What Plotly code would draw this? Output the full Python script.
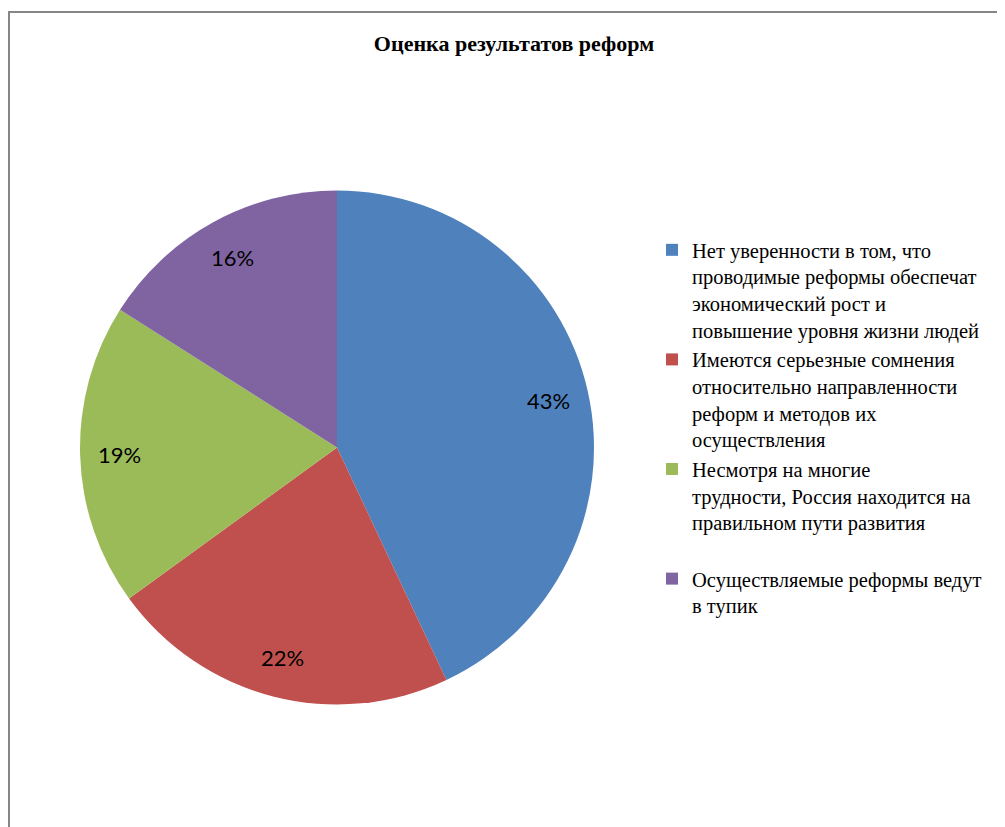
import math
import plotly.graph_objects as go

# --- data ---
labels = [
    "Нет уверенности в том, что<br>проводимые реформы обеспечат<br>экономический рост и<br>повышение уровня жизни людей",
    "Имеются серьезные сомнения<br>относительно направленности<br>реформ и методов их<br>осуществления",
    "Несмотря на многие<br>трудности, Россия находится на<br>правильном пути развития<br> ",
    "Осуществляемые реформы ведут<br>в тупик",
]
values = [43, 22, 19, 16]
colors = ["#4F81BD", "#C0504D", "#9BBB59", "#8064A2"]

# page body has an 8px margin, so the figure starts at (8, 8)
OFF = 8
W, H = 1005 - OFF, 827 - OFF


def px(x):
    return (x - OFF) / W


def py(y):
    return 1 - (y - OFF) / H


# pie geometry in page pixels
left, right, top, bottom = 80, 594, 190, 705
cx, cy = (left + right) / 2, (top + bottom) / 2
R = (right - left) / 2

fig = go.Figure()
fig.add_trace(go.Pie(
    labels=labels,
    values=values,
    sort=False,
    direction="clockwise",
    rotation=0,
    marker=dict(colors=colors, line=dict(width=0)),
    textinfo="none",
    hoverinfo="label+percent",
    domain=dict(x=[px(left), px(right)], y=[py(bottom), py(top)]),
))

# data labels placed out towards the rim, like the original
annotations = []
total = sum(values)
cum = 0
for v in values:
    mid = (cum + v / 2) / total * 2 * math.pi
    cum += v
    lx = cx + 0.845 * R * math.sin(mid)
    ly = cy - 0.845 * R * math.cos(mid)
    annotations.append(dict(
        x=px(lx), y=py(ly), xref="paper", yref="paper",
        text=f"{round(v / total * 100)}%", showarrow=False,
        xanchor="center", yanchor="middle",
        font=dict(family="Lato", size=22, color="black"),
    ))

fig.update_layout(
    width=W, height=H,
    margin=dict(l=0, r=0, t=0, b=0),
    paper_bgcolor="white",
    title=dict(
        text="<b>Оценка результатов реформ</b>",
        x=px(514), xanchor="center",
        y=py(43.5), yanchor="middle",
        font=dict(family="Liberation Serif", size=22, color="black"),
    ),
    legend=dict(
        x=px(652), xanchor="left",
        y=py(230), yanchor="top",
        valign="top",
        font=dict(family="Liberation Serif", size=20.5, color="black"),
        bgcolor="rgba(0,0,0,0)",
    ),
    annotations=annotations,
    shapes=[dict(
        type="rect", xref="paper", yref="paper",
        x0=px(9), x1=1.05, y0=-0.05, y1=py(12),
        line=dict(color="#868686", width=2),
    )],
)

fig.write_html("out.html")
